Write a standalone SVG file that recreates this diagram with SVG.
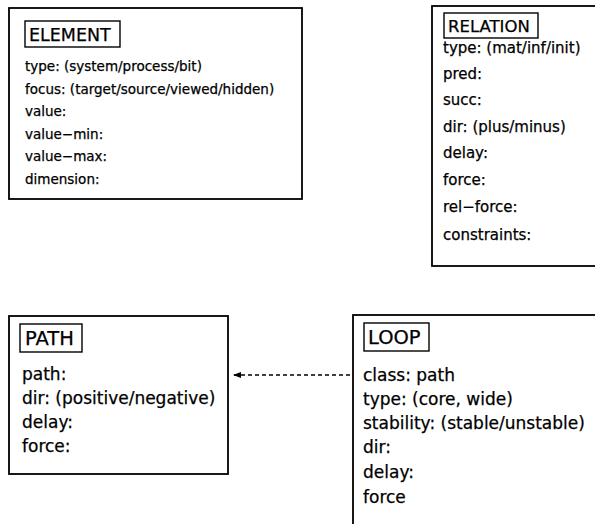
<svg xmlns="http://www.w3.org/2000/svg" width="595" height="524" viewBox="0 0 595 524">
<style>
.box{fill:none;stroke:#000;stroke-width:1.8}
.lbl{fill:none;stroke:#000;stroke-width:1.4}
text{font-family:"DejaVu Sans","Liberation Sans",sans-serif;fill:#000;stroke:#000;stroke-width:0.25}
.e{font-size:13.5px}
.r{font-size:15px}
.l{font-size:17px}
.h{font-size:17.5px}
.c{stroke:#000;stroke-width:1.3;stroke-dasharray:4 3;fill:none}
</style>
<defs>
<marker id="ah" markerWidth="8" markerHeight="6" refX="7" refY="3" orient="auto" markerUnits="userSpaceOnUse">
<path d="M0,0 L8,3 L0,6 Z" fill="#000"/>
</marker>
</defs>
<rect width="595" height="524" fill="#fff"/>
<g id="element">
<rect class="box" x="9" y="8" width="293" height="191"/>
<rect class="lbl" x="25" y="21" width="95" height="26"/>
<text class="h" x="29" y="41">ELEMENT</text>
<text class="e" x="25" y="71">type: (system/process/bit)</text>
<text class="e" x="25" y="94">focus: (target/source/viewed/hidden)</text>
<text class="e" x="25" y="116">value:</text>
<text class="e" x="25" y="139">value−min:</text>
<text class="e" x="25" y="161">value−max:</text>
<text class="e" x="25" y="184">dimension:</text>
</g>
<g id="relation">
<rect class="box" x="432" y="6" width="170" height="260"/>
<rect class="lbl" x="444" y="13" width="94" height="25"/>
<text class="h" x="448" y="32" style="font-size:16.5px">RELATION</text>
<text class="r" x="443" y="53">type: (mat/inf/init)</text>
<text class="r" x="443" y="79">pred:</text>
<text class="r" x="443" y="105">succ:</text>
<text class="r" x="443" y="132">dir: (plus/minus)</text>
<text class="r" x="443" y="158">delay:</text>
<text class="r" x="443" y="185">force:</text>
<text class="r" x="443" y="212">rel−force:</text>
<text class="r" x="443" y="240">constraints:</text>
</g>
<g id="path">
<rect class="box" x="9" y="316" width="219" height="158"/>
<rect class="lbl" x="20" y="324" width="62" height="28"/>
<text class="h" x="25" y="345" style="font-size:19.5px">PATH</text>
<text class="l" x="22" y="380">path:</text>
<text class="l" x="22" y="404">dir: (positive/negative)</text>
<text class="l" x="22" y="428">delay:</text>
<text class="l" x="22" y="452">force:</text>
</g>
<g id="loop">
<rect class="box" x="353" y="315" width="250" height="220"/>
<rect class="lbl" x="364" y="323" width="65" height="28"/>
<text class="h" x="368" y="344" style="font-size:19.5px">LOOP</text>
<text class="l" x="363" y="381">class: path</text>
<text class="l" x="363" y="405">type: (core, wide)</text>
<text class="l" x="363" y="429">stability: (stable/unstable)</text>
<text class="l" x="363" y="453">dir:</text>
<text class="l" x="363" y="478">delay:</text>
<text class="l" x="363" y="503">force</text>
</g>
<g id="connectors">
<line class="c" x1="350" y1="375" x2="234" y2="375" marker-end="url(#ah)"/>
</g>
</svg>
